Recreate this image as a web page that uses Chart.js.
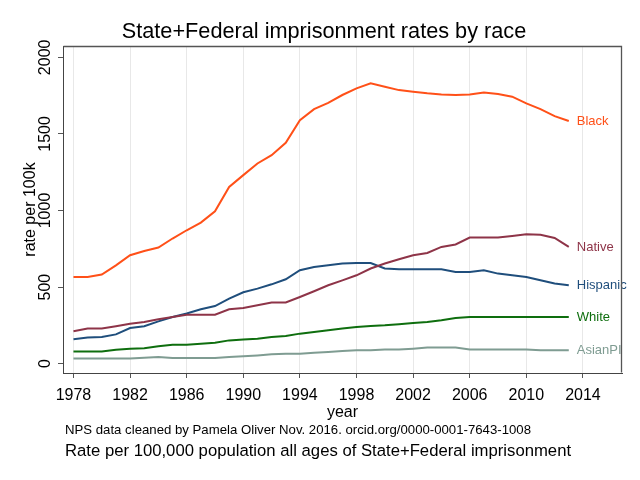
<!DOCTYPE html>
<html><head><meta charset="utf-8">
<script src="https://cdn.jsdelivr.net/npm/chart.js@4/dist/chart.umd.min.js"></script>
<style>html,body{margin:0;padding:0;background:#fff}</style>
</head><body>
<canvas id="c" width="640" height="480"></canvas>
<script>
const years = [1978,1979,1980,1981,1982,1983,1984,1985,1986,1987,1988,1989,1990,1991,1992,1993,1994,1995,1996,1997,1998,1999,2000,2001,2002,2003,2004,2005,2006,2007,2008,2009,2010,2011,2012,2013];
const black = [566,566,582,642,708,736,758,817,871,921,995,1154,1231,1307,1361,1442,1590,1662,1703,1754,1797,1830,1808,1786,1775,1765,1758,1754,1758,1771,1760,1743,1699,1662,1616,1584];
const native = [211,229,229,244,261,272,290,305,320,320,320,355,363,381,399,399,435,473,512,544,577,621,654,682,708,723,762,778,823,823,823,834,845,841,821,762];
const hispanic = [159,170,174,191,233,244,276,305,327,355,376,425,466,490,518,551,610,631,642,654,657,657,621,616,616,616,616,599,599,610,588,577,566,544,523,512];
const white = [80,80,80,91,98,101,113,124,124,130,137,152,157,163,174,180,196,207,218,229,239,246,250,257,265,272,283,298,305,305,305,305,305,305,305,305];
const asianpi = [33,33,33,33,33,39,43,37,37,37,37,43,48,54,61,65,65,72,76,82,87,87,93,93,98,105,105,105,93,93,93,93,93,87,87,87];
const seriesNames = ['Black','Native','Hispanic','White','AsianPI'];
const seriesValues = [black, native, hispanic, white, asianpi];
const seriesColors = ['#FF5018','#8E3448','#1F4E7C','#0E6E0E','#7F9C92'];
const xTicks = [1978,1982,1986,1990,1994,1998,2002,2006,2010,2014];
const yTicks = [0,500,1000,1500,2000];
const titleText = 'State+Federal imprisonment rates by race';
const noteText = 'NPS data cleaned by Pamela Oliver Nov. 2016. orcid.org/0000-0001-7643-1008';
const captionText = 'Rate per 100,000 population all ages of State+Federal imprisonment';

const FONT = '"Liberation Sans", Arial, sans-serif';

const datasets = seriesNames.map((name, k) => ({
  label: name,
  data: years.map((yr, i) => ({x: yr, y: seriesValues[k][i]})),
  borderColor: seriesColors[k],
  borderWidth: 2,
  pointRadius: 0,
  fill: false,
  tension: 0
}));

const framePlugin = {
  id: 'frame',
  afterDatasetsDraw(chart) {
    const {ctx} = chart;
    const xs = chart.scales.x, ys = chart.scales.y;
    ctx.save();
    ctx.font = '13px ' + FONT;
    ctx.textAlign = 'left';
    ctx.textBaseline = 'middle';
    chart.data.datasets.forEach(ds => {
      const last = ds.data[ds.data.length - 1];
      ctx.fillStyle = ds.borderColor;
      ctx.fillText(ds.label, xs.getPixelForValue(last.x) + 8, ys.getPixelForValue(last.y));
    });
    ctx.restore();
  },
  afterDraw(chart) {
    const {ctx, chartArea: a} = chart;
    ctx.save();
    ctx.strokeStyle = '#555';
    ctx.lineWidth = 1.3;
    const L = Math.round(a.left) + 0.5, T = Math.round(a.top) + 0.5;
    const R = Math.round(a.right) - 0.5, B = Math.round(a.bottom) - 0.5;
    ctx.beginPath();
    ctx.moveTo(L, T); ctx.lineTo(R, T); ctx.lineTo(R, B);
    ctx.stroke();
    ctx.fillStyle = '#000';
    ctx.textBaseline = 'middle';
    ctx.textAlign = 'center';
    ctx.font = '21.7px ' + FONT;
    ctx.fillText(titleText, 324, 32);
    ctx.textAlign = 'left';
    ctx.font = '13.2px ' + FONT;
    ctx.fillText(noteText, 65, 430);
    ctx.font = '16.7px ' + FONT;
    ctx.fillText(captionText, 65, 451);
    ctx.restore();
  }
};

new Chart(document.getElementById('c'), {
  type: 'line',
  data: {datasets},
  plugins: [framePlugin],
  options: {
    responsive: false,
    animation: false,
    layout: {padding: {left: 0, right: 18, top: 46, bottom: 0}},
    plugins: {
      legend: {display: false},
      tooltip: {enabled: false},
      title: {display: false}
    },
    scales: {
      x: {
        type: 'linear',
        min: 1977.26,
        max: 2016.76,
        afterBuildTicks: s => { s.ticks = xTicks.map(v => ({value: v})); },
        afterFit: s => { s.height = 107; },
        ticks: {
          autoSkip: false,
          maxRotation: 0,
          color: '#000',
          padding: 8,
          font: {family: FONT, size: 16},
          callback: v => String(v)
        },
        grid: {color: '#E8E8E8', lineWidth: 1, tickColor: '#555', tickLength: 5},
        border: {display: true, color: '#444', width: 1},
        title: {display: true, text: 'year', color: '#000', font: {family: FONT, size: 16}, padding: {top: 0, bottom: 58}}
      },
      y: {
        type: 'linear',
        min: -61,
        max: 2074,
        afterBuildTicks: s => { s.ticks = yTicks.map(v => ({value: v})); },
        afterFit: s => { s.width = 63; },
        ticks: {
          color: '#000',
          minRotation: 90,
          maxRotation: 90,
          crossAlign: 'center',
          padding: -5,
          font: {family: FONT, size: 16},
          callback: v => String(v)
        },
        grid: {drawOnChartArea: false, tickColor: '#555', tickLength: 5},
        border: {display: true, color: '#444', width: 1},
        title: {display: true, text: 'rate per 100k', color: '#000', font: {family: FONT, size: 16}, padding: {top: 21}}
      }
    }
  }
});
</script>
</body></html>
